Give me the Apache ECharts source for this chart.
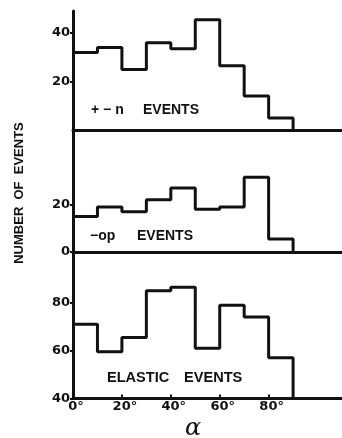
<!DOCTYPE html>
<html>
<head>
<meta charset="utf-8">
<script src="https://cdn.jsdelivr.net/npm/echarts@6/dist/echarts.min.js"></script>
<style>
  html, body { margin: 0; padding: 0; background: #fff; }
  #chart { width: 342px; height: 438px; }
</style>
</head>
<body>
<div id="chart"></div>
<script>
// Angular distribution of events: counts per 10-degree bin of alpha
const binEdges = [0, 10, 20, 30, 40, 50, 60, 70, 80];
const binWidth = 10;
const plusMinusN = [32, 34, 25, 36, 33.5, 45.5, 26.5, 14, 5];
const minusOP = [15, 19, 17, 22, 27, 18, 19, 31.5, 5.5];
const elasticEvents = [71, 59.5, 65.5, 85, 86.5, 61, 79, 74, 57];

// Tick values shown on each axis
const topTicks = [20, 40];
const midTicks = [0, 20];
const botTicks = [40, 60, 80];
const angleTicks = [0, 20, 40, 60, 80];
const angleMinorTicks = [20, 40, 60, 80];

const INK = '#111';
const numFont = { fontFamily: 'DejaVu Sans', fontWeight: 'bold', fontSize: 13, color: INK };

// Histogram outline: step line through the bin left edges, closed down to the baseline
function outline(counts, base) {
  const pts = binEdges.map((x, i) => [x, counts[i]]);
  const end = binEdges[binEdges.length - 1] + binWidth;
  pts.push([end, counts[counts.length - 1]]);
  pts.push([end, base]);
  return pts;
}

function yAxis(idx, min, max, ticks) {
  return {
    type: 'value', gridIndex: idx, min: min, max: max,
    axisLine: { show: true, onZero: false, lineStyle: { color: INK, width: 3 } },
    axisTick: { show: true, length: 3, customValues: ticks, lineStyle: { color: INK, width: 2 } },
    axisLabel: Object.assign({ customValues: ticks, margin: 3 }, numFont),
    splitLine: { show: false }
  };
}

function xAxis(idx, withLabels) {
  return {
    type: 'value', gridIndex: idx, min: 0, max: 110,
    axisLine: { show: true, onZero: false, lineStyle: { color: INK, width: 3 } },
    axisTick: withLabels
      ? { show: true, inside: true, length: 4, customValues: angleMinorTicks, lineStyle: { color: INK, width: 2 } }
      : { show: false },
    axisLabel: withLabels
      ? Object.assign({ customValues: angleTicks, margin: 2, padding: [0, 0, 0, 6], formatter: v => v + '°' }, numFont)
      : { show: false },
    splitLine: { show: false }
  };
}

function hist(idx, counts, base) {
  return {
    type: 'line', xAxisIndex: idx, yAxisIndex: idx, step: 'end',
    data: outline(counts, base), showSymbol: false, symbol: 'none',
    lineStyle: { color: INK, width: 3 }, clip: false, silent: true
  };
}

const wordFont = 'bold 14px "Liberation Sans"';
function word(text, x, y, sx) {
  return { type: 'text', x: x, y: y, scaleX: sx || 1,
    style: { text: text, font: wordFont, fill: INK, align: 'left', verticalAlign: 'middle' } };
}

const chart = echarts.init(document.getElementById('chart'), null, { renderer: 'canvas' });
chart.setOption({
  animation: false,
  backgroundColor: '#fff',
  grid: [
    { left: 73, right: 0, top: 11, height: 119 },
    { left: 73, right: 0, top: 130, height: 122 },
    { left: 73, right: 0, top: 252, height: 146.5 }
  ],
  xAxis: [xAxis(0, false), xAxis(1, false), xAxis(2, true)],
  yAxis: [yAxis(0, 0, 49.1, topTicks), yAxis(1, 0, 51.4, midTicks), yAxis(2, 40, 101.2, botTicks)],
  series: [hist(0, plusMinusN, 0), hist(1, minusOP, 0), hist(2, elasticEvents, 40)],
  graphic: [
    word('+ − n', 91, 110),
    word('EVENTS', 143, 110),
    word('−op', 90, 236.5),
    word('EVENTS', 137, 236.5),
    word('ELASTIC', 107, 378.5, 1.04),
    word('EVENTS', 184, 378.5, 1.04),
    { type: 'text', x: 19, y: 193, rotation: Math.PI / 2,
      style: { text: 'NUMBER  OF  EVENTS', font: 'bold 13px "Liberation Sans"', fill: INK,
               align: 'center', verticalAlign: 'middle' } },
    { type: 'text', x: 193, y: 429,
      style: { text: 'α', font: 'italic 24px "DejaVu Serif"', fill: INK,
               align: 'center', verticalAlign: 'middle' } }
  ]
});
</script>
</body>
</html>
